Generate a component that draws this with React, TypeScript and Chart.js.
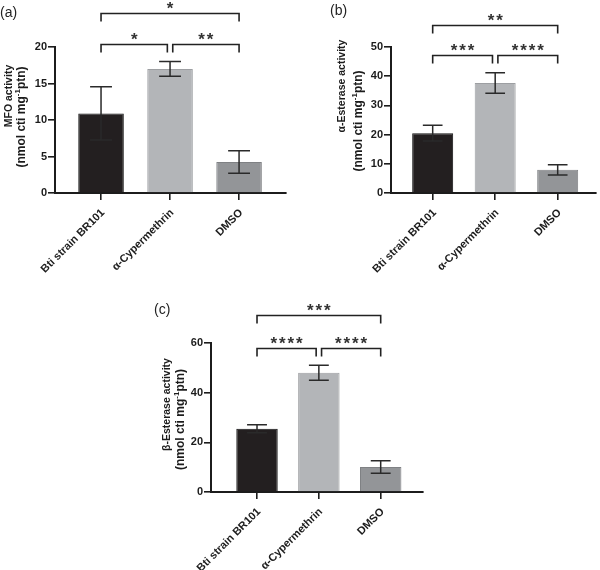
import React, { useEffect, useRef } from "react";
import { Chart, registerables } from "chart.js";

Chart.register(...registerables);

const FONT = '"Liberation Sans", Arial, Helvetica, sans-serif';
const INK = "#1c1c1c";

// Treatment groups shared by all three panels
const categories = ["Bti strain BR101", "α-Cypermethrin", "DMSO"];
const barFills = ["#231f20", "#b3b5b8", "#939598"];
const barEdges = ["#121212", "#9d9fa2", "#7f8184"];

// Pairwise comparisons drawn as brackets: [from, to]
const comparisons: [number, number][] = [
  [0, 1],
  [1, 2],
  [0, 2],
];

// (a) MFO activity
const mfoMeans = [10.9, 17.0, 4.25];
const mfoErrors = [3.65, 1.0, 1.55];
const mfoTicks = [0, 5, 10, 15, 20];
const mfoStars = ["*", "**", "*"];
const mfoBracketY = [20.4, 20.4, 24.6];

// (b) α-Esterase activity
const aEstMeans = [20.5, 37.7, 7.95];
const aEstErrors = [2.7, 3.5, 1.75];
const aEstTicks = [0, 10, 20, 30, 40, 50];
const aEstStars = ["***", "****", "**"];
const aEstBracketY = [47.2, 47.2, 57.7];

// (c) β-Esterase activity
const bEstMeans = [25.5, 48.0, 10.1];
const bEstErrors = [1.6, 3.0, 2.5];
const bEstTicks = [0, 20, 40, 60];
const bEstStars = ["****", "****", "***"];
const bEstBracketY = [58, 58, 71.1];

type Spec = {
  letter: string;
  title: string;
  means: number[];
  errors: number[];
  ticks: number[];
  stars: string[];
  bracketY: number[];
  box: { left: number; top: number; width: number; height: number };
  area: { left: number; top: number; right: number; bottom: number };
  xMin: number;
  xMax: number;
  barFrac: number;
  t1x: number;
  t1dy: number;
  t2x: number;
  t2dy: number;
  letterX: number;
  letterY: number;
};

const panels: Spec[] = [
  {
    letter: "(a)",
    title: "MFO activity",
    means: mfoMeans,
    errors: mfoErrors,
    ticks: mfoTicks,
    stars: mfoStars,
    bracketY: mfoBracketY,
    box: { left: 0, top: 0, width: 300, height: 290 },
    area: { left: 55, top: 47, right: 286, bottom: 193 },
    xMin: -0.667,
    xMax: 2.68,
    barFrac: 0.66,
    t1x: 9,
    t1dy: -24,
    t2x: 22,
    t2dy: -3,
    letterX: 0,
    letterY: 13,
  },
  {
    letter: "(b)",
    title: "α-Esterase activity",
    means: aEstMeans,
    errors: aEstErrors,
    ticks: aEstTicks,
    stars: aEstStars,
    bracketY: aEstBracketY,
    box: { left: 300, top: 0, width: 300, height: 290 },
    area: { left: 91, top: 47, right: 296, bottom: 193 },
    xMin: -0.667,
    xMax: 2.613,
    barFrac: 0.656,
    t1x: 42.5,
    t1dy: -34,
    t2x: 59,
    t2dy: 1,
    letterX: 30,
    letterY: 11,
  },
  {
    letter: "(c)",
    title: "β-Esterase activity",
    means: bEstMeans,
    errors: bEstErrors,
    ticks: bEstTicks,
    stars: bEstStars,
    bracketY: bEstBracketY,
    box: { left: 150, top: 290, width: 300, height: 280 },
    area: { left: 61, top: 53, right: 273, bottom: 202 },
    xMin: -0.744,
    xMax: 2.684,
    barFrac: 0.67,
    t1x: 16.7,
    t1dy: -13,
    t2x: 31,
    t2dy: 2,
    letterX: 4,
    letterY: 20,
  },
];

type Part = { text: string; size: number; rise?: number };

function drawVertical(ctx: CanvasRenderingContext2D, parts: Part[], cx: number, cy: number) {
  ctx.save();
  ctx.translate(cx, cy);
  ctx.rotate(-Math.PI / 2);
  ctx.fillStyle = INK;
  ctx.textAlign = "left";
  ctx.textBaseline = "middle";
  const widths = parts.map((p) => {
    ctx.font = `bold ${p.size}px ${FONT}`;
    return ctx.measureText(p.text).width;
  });
  const total = widths.reduce((a, b) => a + b, 0);
  let x = -total / 2;
  parts.forEach((p, i) => {
    ctx.font = `bold ${p.size}px ${FONT}`;
    ctx.fillText(p.text, x, p.rise ?? 0);
    x += widths[i];
  });
  ctx.restore();
}

function decorPlugin(spec: Spec) {
  return {
    id: "decor",
    afterDatasetsDraw(chart: any) {
      const ctx: CanvasRenderingContext2D = chart.ctx;
      const y = chart.scales.y;
      const bars = chart.getDatasetMeta(0).data;
      ctx.save();
      ctx.strokeStyle = "#2a2a2a";
      ctx.lineWidth = 1.5;
      spec.means.forEach((m, i) => {
        const b = bars[i];
        const cx = b.x;
        const half = b.width * 0.24;
        const yt = y.getPixelForValue(m + spec.errors[i]);
        const yb = y.getPixelForValue(m - spec.errors[i]);
        ctx.beginPath();
        ctx.moveTo(cx, yt);
        ctx.lineTo(cx, yb);
        ctx.moveTo(cx - half, yt);
        ctx.lineTo(cx + half, yt);
        ctx.moveTo(cx - half, yb);
        ctx.lineTo(cx + half, yb);
        ctx.stroke();
      });
      ctx.restore();
    },
    afterDraw(chart: any) {
      const ctx: CanvasRenderingContext2D = chart.ctx;
      const x = chart.scales.x;
      const y = chart.scales.y;
      const bars = chart.getDatasetMeta(0).data;
      const area = chart.chartArea;

      // significance brackets with asterisks
      ctx.save();
      ctx.strokeStyle = "#222";
      ctx.fillStyle = "#333";
      ctx.lineWidth = 1.6;
      comparisons.forEach(([a, b], k) => {
        const level = spec.bracketY[k];
        const shared = (idx: number) =>
          comparisons.some(
            ([c, d], j) => j !== k && spec.bracketY[j] === level && (c === idx || d === idx)
          );
        let x1 = bars[a].x;
        let x2 = bars[b].x;
        if (shared(a)) x1 += 2.7;
        if (shared(b)) x2 -= 2.7;
        const yl = Math.round(y.getPixelForValue(level)) + 0.5;
        ctx.beginPath();
        ctx.moveTo(x1, yl + 8);
        ctx.lineTo(x1, yl);
        ctx.lineTo(x2, yl);
        ctx.lineTo(x2, yl + 8);
        ctx.stroke();
        const n = spec.stars[k].length;
        const pitch = 8.5;
        const mid = (x1 + x2) / 2;
        const fs = 17;
        ctx.font = `bold ${fs}px ${FONT}`;
        ctx.textAlign = "center";
        ctx.textBaseline = "alphabetic";
        for (let s = 0; s < n; s++) {
          ctx.fillText("*", mid + (s - (n - 1) / 2) * pitch, yl - 9.5 + 0.57 * fs);
        }
      });
      ctx.restore();

      // slanted category labels under the x axis
      ctx.save();
      ctx.fillStyle = INK;
      ctx.font = `bold 11px ${FONT}`;
      ctx.textAlign = "right";
      ctx.textBaseline = "middle";
      categories.forEach((label, i) => {
        const px = x.getPixelForValue(i);
        ctx.save();
        ctx.translate(px + 2, area.bottom + 18);
        ctx.rotate(-Math.PI / 4);
        ctx.fillText(label, 0, 0);
        ctx.restore();
      });
      ctx.restore();

      // two-line y axis title
      const midY = (area.top + area.bottom) / 2;
      drawVertical(ctx, [{ text: spec.title, size: 10.5 }], spec.t1x, midY + spec.t1dy);
      drawVertical(
        ctx,
        [
          { text: "(nmol cti mg", size: 12 },
          { text: "-1", size: 8, rise: -4 },
          { text: "ptn)", size: 12 },
        ],
        spec.t2x,
        midY + spec.t2dy
      );

      // panel letter
      ctx.save();
      ctx.fillStyle = "#222";
      ctx.font = `14px ${FONT}`;
      ctx.textAlign = "left";
      ctx.textBaseline = "middle";
      ctx.fillText(spec.letter, spec.letterX, spec.letterY);
      ctx.restore();
    },
  };
}

function Panel({ spec }: { spec: Spec }) {
  const ref = useRef<HTMLCanvasElement>(null);
  useEffect(() => {
    const canvas = ref.current;
    if (!canvas) return;
    const { box, area } = spec;
    const axisGrid = {
      display: true,
      drawOnChartArea: false,
      drawTicks: true,
      offset: false,
      tickLength: 7,
      color: INK,
      lineWidth: 1.6,
    };
    const axisBorder = { display: true, color: INK, width: 2 };
    const chart = new Chart(canvas, {
      type: "bar",
      data: {
        datasets: [
          {
            data: spec.means.map((m, i) => ({ x: i, y: m })),
            backgroundColor: barFills,
            borderColor: barEdges,
            borderWidth: 1,
            barPercentage: spec.barFrac,
            categoryPercentage: 1,
          },
        ],
      },
      options: {
        animation: false,
        responsive: false,
        events: [],
        layout: {
          padding: { top: area.top, right: box.width - area.right, left: 0, bottom: 0 },
        },
        plugins: { legend: { display: false }, tooltip: { enabled: false } },
        scales: {
          x: {
            type: "linear",
            offset: false,
            bounds: "ticks",
            min: spec.xMin,
            max: spec.xMax,
            afterBuildTicks: (s: any) => {
              s.ticks = categories.map((_, i) => ({ value: i }));
            },
            afterFit: (s: any) => {
              s.height = box.height - area.bottom;
              s.paddingLeft = 0;
              s.paddingRight = 0;
            },
            ticks: { display: false },
            grid: axisGrid,
            border: axisBorder,
          },
          y: {
            type: "linear",
            min: 0,
            max: spec.ticks[spec.ticks.length - 1],
            afterBuildTicks: (s: any) => {
              s.ticks = spec.ticks.map((v) => ({ value: v }));
            },
            afterFit: (s: any) => {
              s.width = area.left;
              s.paddingTop = 0;
              s.paddingBottom = 0;
            },
            ticks: {
              padding: 1,
              color: INK,
              font: { family: FONT, size: 11, weight: "bold" },
            },
            grid: { ...axisGrid },
            border: axisBorder,
          },
        },
      } as any,
      plugins: [decorPlugin(spec)],
    });
    return () => chart.destroy();
  }, [spec]);
  return (
    <canvas
      ref={ref}
      width={spec.box.width}
      height={spec.box.height}
      style={{
        position: "absolute",
        left: spec.box.left,
        top: spec.box.top,
        width: spec.box.width,
        height: spec.box.height,
      }}
    />
  );
}

export default function App() {
  return (
    <div
      style={{
        position: "absolute",
        left: 0,
        top: 0,
        width: 600,
        height: 570,
        background: "#fff",
        overflow: "hidden",
      }}
    >
      {panels.map((p) => (
        <Panel key={p.letter} spec={p} />
      ))}
    </div>
  );
}
